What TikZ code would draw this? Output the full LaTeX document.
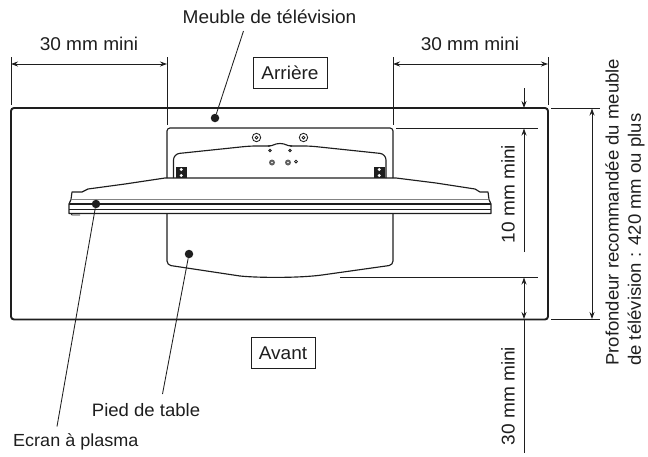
\documentclass[tikz,border=0pt]{standalone}
\usepackage{fontspec}
\setmainfont[FakeStretch = 1.03]{Liberation Sans}
\usetikzlibrary{arrows.meta}

\definecolor{ink}{HTML}{1E1E1E}

\tikzset{
	thin line/.style = {ink, line width = 0.85pt},
	thick line/.style = {ink, line width = 1.9pt},
	body line/.style = {ink, line width = 1.15pt, line join = round},
	dim up/.style = {thin line, -{Stealth[length = 7pt, width = 5pt]}},
	dim both/.style = {thin line, {Stealth[length = 7pt, width = 5pt]}-{Stealth[length = 7pt, width = 5pt]}},
	label/.style = {ink, font = \fontsize{18.5}{20}\selectfont, inner sep = 0},
	small label/.style = {label, font = \fontsize{18}{20}\selectfont},
	sidebox/.style = {label, draw = ink, line width = 1pt, minimum height = 31pt},
	dot/.style = {circle, fill = ink, inner sep = 0, minimum size = 8.5pt},
}

\begin{document}
\begin{tikzpicture}[x = 1pt, y = -1pt]
		\useasboundingbox (0, 0) rectangle (648, 456);
		
		\def\gap{214}
		
		% table
		\draw [thick line, rounded corners = 3pt] (11, 108) rectangle (548, 319.5);
		
		% stand, rear part
		\draw [body line, rounded corners = 3pt] (167, 178) -- (167, 128) -- (393, 128) -- (393, 178);
		\draw [body line, rounded corners = 6pt] (173.5, 178) -- (173.5, 154) -- (250, 146) -- (270, 146);
		\draw [body line, rounded corners = 6pt] (386, 178) -- (386, 154) -- (310, 146) -- (290, 146);
		\draw [body line] (268, 146) .. controls (274, 146) and (274, 143.5) .. (280, 143.5) .. controls (286, 143.5) and (286, 146) .. (292, 146);
		
		\foreach \x in {256.5, 303.5} {
			\draw [thin line] (\x, 137.5) circle [radius = 4.2pt];
			\draw [thin line] (\x, 137.5) circle [radius = 1.4pt];
		}
		\foreach \x in {270, 290} {
			\draw [thin line] (\x, 150.5) circle [radius = 1.3pt];
		}
		\foreach \x in {272, 288} {
			\fill [ink!70] (\x, 162.5) circle [radius = 3pt];
			\fill [white] (\x, 162.5) circle [radius = 0.8pt];
		}
		\draw [thin line] (296, 161.5) circle [radius = 1.4pt];
		\foreach \x in {176, 374} {
			\fill [ink] (\x, 166.5) rectangle ++(10.5, 11.5);
			\fill [white] (\x + 5.2, 169.5) circle [radius = 1.6pt];
			\fill [white] (\x + 5.2, 175.5) circle [radius = 1.6pt];
		}
		
		% stand, front part
		\draw [body line, rounded corners = 4pt] (167, \gap) -- (167, 265) -- (240, 276);
		\draw [body line] (240, 276) .. controls (260, 278) and (300, 278) .. (322, 275);
		\draw [body line, rounded corners = 4pt] (322, 275) -- (393, 265) -- (393, \gap);
		
		% screen
		\draw [body line] (71, 199.5) -- (72, 192) -- (82, 192) -- (88, 189) -- (125, 184) -- (165, 178) -- (396, 178) -- (436, 183) -- (475, 189) -- (480, 192) -- (488, 192) -- (489, 199.5);
		\draw [thin line, line width = 1.4pt, ink!55] (71, 199.5) -- (489, 199.5);
		\draw [body line, line width = 1.2pt] (71, 199.5) -- (69, 204) -- (69, 213.5) -- (491, 213.5) -- (491, 204) -- (489, 199.5);
		\draw [body line] (69, 204) -- (491, 204);
		\draw [thin line] (69, 209) -- (491, 209);
		\draw [thin line] (71, 213.5) -- (72, 215) -- (80, 215);
		
		% top dimensions
		\coordinate (left a top) at (11, 57);
		\coordinate (left a bottom) at (11, 105);
		\coordinate (left b top) at (167, 57);
		\coordinate (left b bottom) at (167, 125);
		\coordinate (right a top) at (393, 57);
		\coordinate (right a bottom) at (393, 125);
		\coordinate (right b top) at (548, 57);
		\coordinate (right b bottom) at (548, 105);
		
		\draw [thin line] (left a top) -- (left a bottom);
		\draw [thin line] (left b top) -- (left b bottom);
		\draw [thin line] (right a top) -- (right a bottom);
		\draw [thin line] (right b top) -- (right b bottom);
		\draw [dim both] (11, 64) -- (167, 64);
		\draw [dim both] (393, 64) -- (548, 64);
		
		\node [label] (left width) at (89, 44) {30 mm mini};
		\node [label] (right width) at (470, 44) {30 mm mini};
		
		% vertical dimensions
		\coordinate (rear line start) at (396, 128);
		\coordinate (rear line end) at (538, 128);
		\coordinate (front line start) at (340, 277);
		\coordinate (front line end) at (538, 277);
		
		\draw [thin line] (rear line start) -- (rear line end);
		\draw [thin line] (front line start) -- (front line end);
		
		\draw [dim up] (524, 88) -- (524, 108);
		\draw [dim up] (524, 252) -- (524, 128.5);
		\draw [dim both] (524, 277.5) -- (524, 319);
		\draw [thin line] (524, 319) -- (524, 453);
		
		\node [label, rotate = 90] (rear depth) at (508, 194) {10 mm mini};
		\node [label, rotate = 90] (front depth) at (508, 396) {30 mm mini};
		
		% table depth
		\draw [thin line] (551, 108) -- (600, 108);
		\draw [thin line] (551, 319.5) -- (600, 319.5);
		\draw [dim both] (592, 108.5) -- (592, 319);
		
		\node [small label, rotate = 90, anchor = west] (depth a) at (612, 366) {Profondeur recommandée du meuble};
		\node [small label, rotate = 90, anchor = west] (depth b) at (636, 366) {de télévision : 420 mm ou plus};
		
		% sides
		\node [sidebox, minimum width = 74pt] (rear side) at (290, 72.5) {Arrière};
		\node [sidebox, minimum width = 64pt] (front side) at (283, 353) {Avant};
		
		% parts
		\node [dot] (cabinet dot) at (215, 118) {};
		\node [dot] (foot dot) at (189, 254) {};
		\node [dot] (screen dot) at (96, 204) {};
		
		\node [label] (cabinet) at (269.5, 17) {Meuble de télévision};
		\node [small label] (foot) at (146, 410.5) {Pied de table};
		\node [small label, anchor = west, font = \fontsize{17.5}{20}\selectfont] (screen) at (13, 441.5) {Ecran à plasma};
		
		\coordinate (cabinet end) at (243.5, 31);
		\coordinate (foot end) at (162.5, 394);
		\coordinate (screen end) at (57, 426.5);
		
		\draw [thin line] (cabinet dot) -- (cabinet end);
		\draw [thin line] (foot dot) -- (foot end);
		\draw [thin line] (screen dot) -- (screen end);
	\end{tikzpicture}
\end{document}
